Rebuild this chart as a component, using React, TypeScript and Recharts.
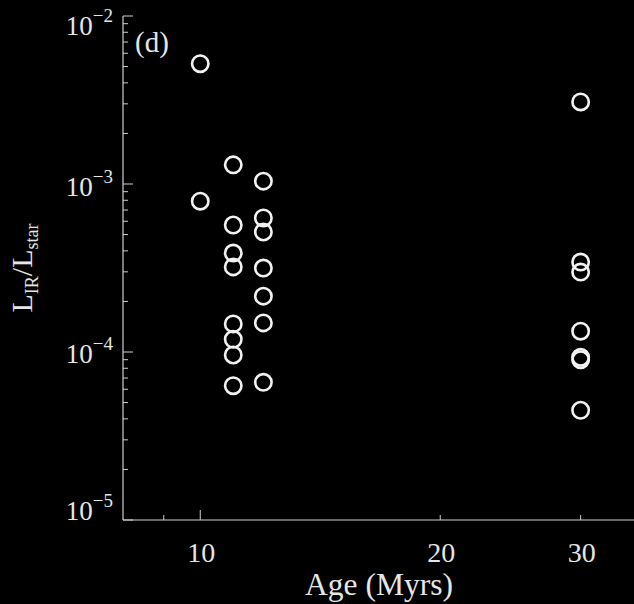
import { ScatterChart, Scatter, XAxis, YAxis } from "recharts";

// ages (Myr) and L_IR/L_star
const ages = [
  10, 10,
  11, 11, 11, 11, 11, 11, 11, 11,
  12, 12, 12, 12, 12, 12, 12,
  30, 30, 30, 30, 30, 30, 30,
];
const ratios = [
  5.2e-3, 7.9e-4,
  1.3e-3, 5.7e-4, 3.88e-4, 3.21e-4, 1.47e-4, 1.19e-4, 9.6e-5, 6.3e-5,
  1.04e-3, 6.28e-4, 5.18e-4, 3.16e-4, 2.15e-4, 1.49e-4, 6.6e-5,
  3.08e-3, 3.43e-4, 2.99e-4, 1.33e-4, 9.3e-5, 9.0e-5, 4.5e-5,
];

const xTicks = [9, 10, 20, 30];
const xMajor = [10];
const xLabeled = [10, 20, 30];

const yTicks = [
  1e-5, 2e-5, 3e-5, 4e-5, 5e-5, 6e-5, 7e-5, 8e-5, 9e-5,
  1e-4, 2e-4, 3e-4, 4e-4, 5e-4, 6e-4, 7e-4, 8e-4, 9e-4,
  1e-3, 2e-3, 3e-3, 4e-3, 5e-3, 6e-3, 7e-3, 8e-3, 9e-3,
  1e-2,
];
const yMajor = [1e-5, 1e-4, 1e-3, 1e-2];

const points = ages.map((age, i) => ({ age, ratio: ratios[i] }));

const FONT = "'Liberation Serif', 'Times New Roman', serif";
const AXIS = "#cfcfcf";
const TEXT = "#e6e6e6";

const near = (list: number[], v: number) =>
  list.some((m) => Math.abs(m - v) / m < 1e-6);

// label nudges so the end labels stay inside the box, like the original
const yLabelDy: Record<number, number> = { [-2]: 19, [-3]: 12, [-4]: 11, [-5]: 0 };

function LeftTick(props: any) {
  const { x, y, payload } = props;
  const v = payload.value;
  const major = near(yMajor, v);
  const exp = Math.round(Math.log10(v));
  return (
    <g>
      <line x1={x} x2={x + (major ? 10 : 5)} y1={y} y2={y} stroke={AXIS} strokeWidth={1} />
      {major && (
        <text x={x - 10} y={y + yLabelDy[exp]} textAnchor="end" fill={TEXT} fontFamily={FONT} fontSize={27}>
          <tspan>10</tspan>
          <tspan dy={-13} fontSize={19}>{"\u2212" + Math.abs(exp)}</tspan>
        </text>
      )}
    </g>
  );
}

function RightTick(props: any) {
  const { x, y, payload } = props;
  const major = near(yMajor, payload.value);
  return <line x1={x} x2={x - (major ? 10 : 5)} y1={y} y2={y} stroke={AXIS} strokeWidth={1} />;
}

function BottomTick(props: any) {
  const { x, y, payload } = props;
  const v = payload.value;
  const major = xMajor.includes(v);
  return (
    <g>
      <line x1={x} x2={x} y1={y} y2={y - (major ? 10 : 5)} stroke={AXIS} strokeWidth={1} />
      {xLabeled.includes(v) && (
        <text x={x + 1} y={y + 42} textAnchor="middle" fill={TEXT} fontFamily={FONT} fontSize={28}>
          {v}
        </text>
      )}
    </g>
  );
}

function TopTick(props: any) {
  const { x, y, payload } = props;
  const major = xMajor.includes(payload.value);
  return <line x1={x} x2={x} y1={y} y2={y + (major ? 10 : 5)} stroke={AXIS} strokeWidth={1} />;
}

function Ring(props: any) {
  const { cx, cy } = props;
  return <circle cx={cx} cy={cy} r={8.2} fill="none" stroke="#f2f2f2" strokeWidth={2.6} />;
}

export default function App() {
  return (
    <div style={{ position: "absolute", left: 0, top: 0, width: 634, height: 604, background: "#000", overflow: "hidden" }}>
      <ScatterChart width={634} height={604} margin={{ top: 16, right: 0, bottom: 0, left: 0 }}>
        <XAxis
          xAxisId="b"
          dataKey="age"
          type="number"
          scale="log"
          domain={[8, 35]}
          allowDataOverflow
          ticks={xTicks}
          interval={0}
          height={84}
          tickSize={0}
          tickMargin={0}
          tickLine={false}
          axisLine={{ stroke: AXIS, strokeWidth: 1.2 }}
          tick={(p: any) => <BottomTick {...p} />}
        />
        <XAxis
          xAxisId="t"
          orientation="top"
          dataKey="age"
          type="number"
          scale="log"
          domain={[8, 35]}
          allowDataOverflow
          ticks={xTicks}
          interval={0}
          height={0}
          tickSize={0}
          tickMargin={0}
          tickLine={false}
          axisLine={{ stroke: AXIS, strokeWidth: 1.2 }}
          tick={(p: any) => <TopTick {...p} />}
        />
        <YAxis
          yAxisId="l"
          dataKey="ratio"
          type="number"
          scale="log"
          domain={[1e-5, 1e-2]}
          allowDataOverflow
          ticks={yTicks}
          interval={0}
          width={123}
          tickSize={0}
          tickMargin={0}
          tickLine={false}
          axisLine={{ stroke: AXIS, strokeWidth: 1.2 }}
          tick={(p: any) => <LeftTick {...p} />}
        />
        <YAxis
          yAxisId="r"
          orientation="right"
          dataKey="ratio"
          type="number"
          scale="log"
          domain={[1e-5, 1e-2]}
          allowDataOverflow
          ticks={yTicks}
          interval={0}
          width={0}
          tickSize={0}
          tickMargin={0}
          tickLine={false}
          axisLine={false}
          tick={(p: any) => <RightTick {...p} />}
        />
        <Scatter data={points} xAxisId="t" yAxisId="r" shape={() => <g />} isAnimationActive={false} />
        <Scatter data={points} xAxisId="b" yAxisId="l" shape={(p: any) => <Ring {...p} />} isAnimationActive={false} />
      </ScatterChart>
      <svg width={634} height={604} style={{ position: "absolute", left: 0, top: 0, pointerEvents: "none" }}>
        <text x={135} y={52} fill={TEXT} fontFamily={FONT} fontSize={29}>(d)</text>
        <text x={379} y={595} textAnchor="middle" fill={TEXT} fontFamily={FONT} fontSize={31.5}>Age (Myrs)</text>
        <text
          transform="rotate(-90, 32, 268)"
          x={32}
          y={268}
          textAnchor="middle"
          fill={TEXT}
          fontFamily={FONT}
          fontSize={30}
        >
          <tspan>L</tspan>
          <tspan dy={6} fontSize={18}>IR</tspan>
          <tspan dy={-6}>/L</tspan>
          <tspan dy={6} fontSize={18}>star</tspan>
        </text>
      </svg>
    </div>
  );
}
